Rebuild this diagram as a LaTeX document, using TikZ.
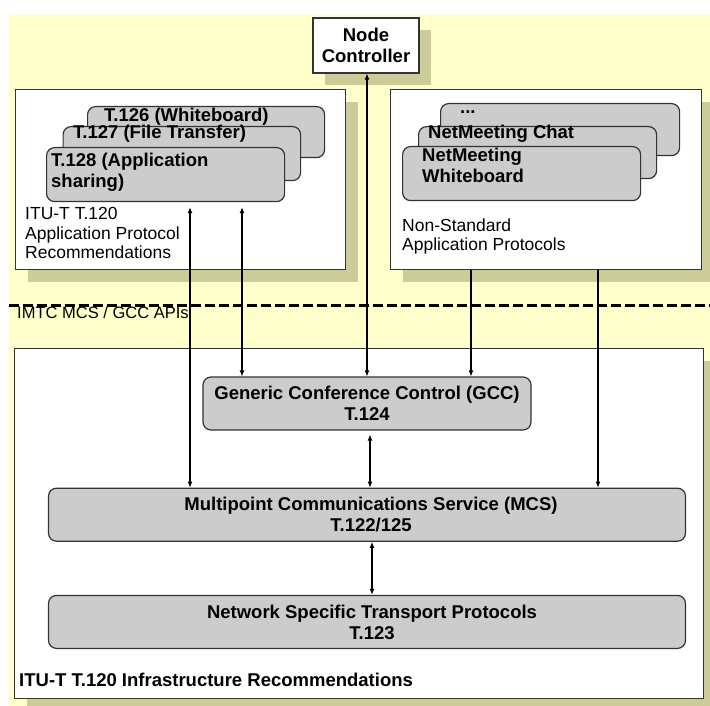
\documentclass[tikz,border=0pt]{standalone}
\usepackage{fontspec}
\setmainfont{Liberation Sans}
\usepackage{xcolor}
\usetikzlibrary{positioning,arrows.meta,shadows}

\definecolor{bgyellow}{HTML}{FFFFCC}
\definecolor{shadowc}{HTML}{CCCC99}
\definecolor{boxgray}{HTML}{CCCCCC}
\definecolor{edgec}{HTML}{333333}

\begin{document}
\begin{tikzpicture}[
  x=1pt, y=-1pt,
  bf/.style={font=\fontsize{18.5}{21}\selectfont\bfseries},
  rm/.style={font=\fontsize{17.5}{19.5}\selectfont},
  shad/.style={drop shadow={shadow xshift=12pt, shadow yshift=-12pt, fill=shadowc, opacity=1}},
  wbox/.style={draw=edgec, fill=white, line width=1.2pt, inner sep=0pt, shad},
  gbox/.style={draw=edgec, fill=boxgray, line width=1.2pt, rounded corners=8pt, inner sep=0pt, align=center, bf},
  stk/.style={gbox, anchor=north west},
  stktxt/.style={bf, inner sep=0pt, anchor=west, align=left},
  plain/.style={rm, inner sep=0pt, anchor=west, align=left},
  arr/.style={{Latex[length=6pt,width=5pt]}-{Latex[length=6pt,width=5pt]}, line width=1.1pt},
  arr1/.style={-{Latex[length=6pt,width=5pt]}, line width=1.1pt}
]
\useasboundingbox (0,0) rectangle (710,706);
\fill[bgyellow] (9,15) rectangle (710,706);

% top boxes
\node[wbox, bf, align=center, minimum width=106pt, minimum height=55pt] (nc) at (366,45.5) {Node\\Controller};
\node[wbox, anchor=north west, minimum width=330pt, minimum height=180pt] (appL) at (15,89) {};
\node[wbox, anchor=north west, minimum width=311pt, minimum height=180pt] (appR) at (390,89) {};

% standard application protocols
\node[stk, minimum width=237pt, minimum height=51pt] (t126) at (87,106) {};
\node[stktxt] (t126txt) at ([xshift=17pt, yshift=-11pt]t126.north west) {T.126 (Whiteboard)};
\node[stk, minimum width=237.5pt, minimum height=54pt] (t127) at (62.5,126) {};
\node[stktxt] (t127txt) at ([xshift=10.5pt, yshift=-8pt]t127.north west) {T.127 (File Transfer)};
\node[stk, minimum width=238pt, minimum height=54pt] (t128) at (46,147) {};
\node[stktxt] (t128txt) at ([xshift=5pt, yshift=-25pt]t128.north west) {T.128 (Application\\sharing)};
\node[plain] (appLtxt) at (25,233) {ITU-T T.120\\Application Protocol\\Recommendations};

% non-standard ones
\node[stk, minimum width=239pt, minimum height=52pt] (etc) at (440,103) {};
\node[stktxt] (etctxt) at ([xshift=20pt, yshift=-9pt]etc.north west) {...};
\node[stk, minimum width=238pt, minimum height=52pt] (chat) at (418,126) {};
\node[stktxt] (chattxt) at ([xshift=10pt, yshift=-8pt]chat.north west) {NetMeeting Chat};
\node[stk, minimum width=238pt, minimum height=54pt] (nmwb) at (402,146) {};
\node[stktxt] (nmwbtxt) at ([xshift=20pt, yshift=-19.5pt]nmwb.north west) {NetMeeting\\Whiteboard};
\node[plain] (appRtxt) at (402,236.5) {Non-Standard\\Application Protocols};

% API line
\draw[line width=3pt, dash pattern=on 10pt off 4pt] (9,305) -- (710,305);
\node[plain, font=\fontsize{16.5}{19}\selectfont] (apis) at (17,313) {IMTC MCS / GCC APIs};

% infrastructure
\node[wbox, anchor=north west, minimum width=689pt, minimum height=350pt] (infra) at (14,348) {};
\node[gbox, minimum width=328pt, minimum height=53pt] (gcc) at (367,403.5) {Generic Conference Control (GCC)\\T.124};
\node[gbox, minimum width=637pt, minimum height=53pt, below=57pt of gcc] (mcs) {\hspace*{8pt}Multipoint Communications Service (MCS)\\\hspace*{8pt}T.122/125};
\node[gbox, minimum width=637pt, minimum height=53pt, below=53pt of mcs] (nstp) {\hspace*{10pt}Network Specific Transport Protocols\\\hspace*{10pt}T.123};
\node[bf, anchor=west, inner sep=0pt] (infratxt) at (19,680) {ITU-T T.120 Infrastructure Recommendations};

% connectors
\coordinate (xnc) at (367,0);
\coordinate (xa) at (190,0);
\coordinate (xb) at (242,0);
\coordinate (xc) at (471,0);
\coordinate (xd) at (598,0);
\coordinate (xe) at (370,0);
\coordinate (xf) at (372,0);

\draw[arr] (nc.south -| xnc) -- (gcc.north -| xnc);
\draw[arr, shorten <=5pt] (t128.south -| xa) -- (mcs.north -| xa);
\draw[arr, shorten <=5pt] (t128.south -| xb) -- (gcc.north -| xb);
\draw[arr1] (appR.south -| xc) -- (gcc.north -| xc);
\draw[arr1] (appR.south -| xd) -- (mcs.north -| xd);
\draw[arr, shorten <=4pt] (gcc.south -| xe) -- (mcs.north -| xe);
\draw[arr] (mcs.south -| xf) -- (nstp.north -| xf);
\end{tikzpicture}
\end{document}
